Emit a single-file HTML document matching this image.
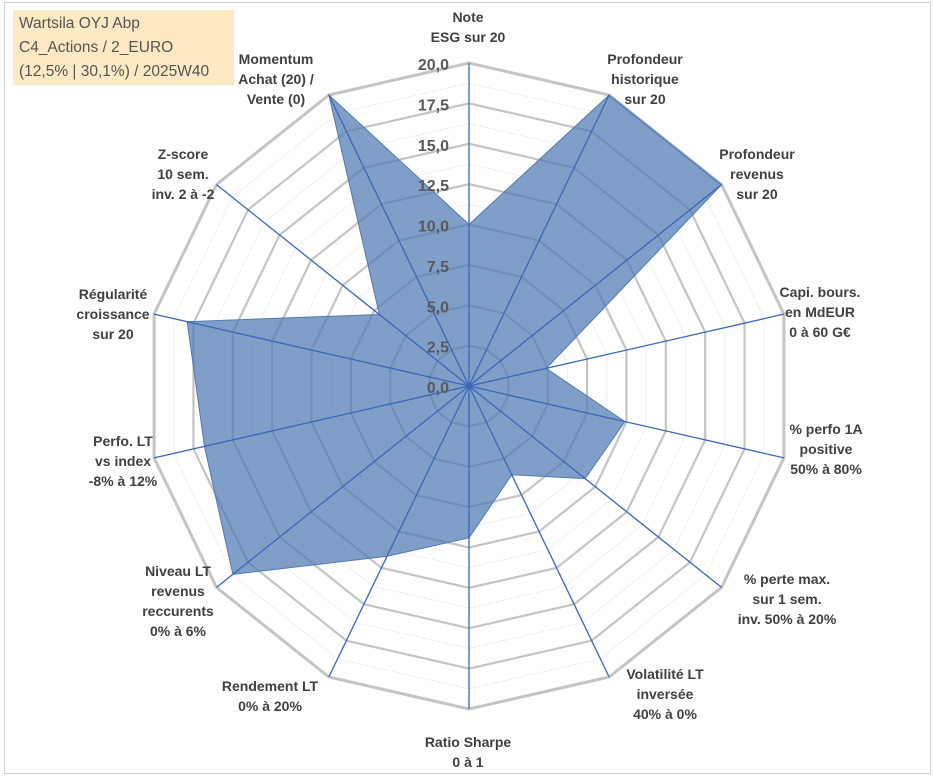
<!DOCTYPE html>
<html><head><meta charset="utf-8"><style>
body{margin:0;background:#fff;}
#wrap{position:relative;width:933px;height:776px;overflow:hidden;font-family:"Liberation Sans",Arial,sans-serif;}
#frame{position:absolute;left:4px;top:2px;width:925px;height:770px;border:1px solid #d0d0d0;}
#title{position:absolute;left:13px;top:10px;width:221px;height:75px;background:#fde9c3;color:#555;font-size:15.5px;line-height:24px;padding:2px 0 0 6px;box-sizing:border-box;}
</style></head><body>
<div id="wrap">
<div id="frame"></div>
<svg id="chart" width="933" height="776" style="position:absolute;left:0;top:0"></svg>
<div id="title">Wartsila OYJ Abp<br>C4_Actions / 2_EURO<br>(12,5% | 30,1%) / 2025W40</div>
</div>
<script>
const categories=[["Note","ESG sur 20"],["Profondeur","historique","sur 20"],["Profondeur","revenus","sur 20"],["Capi. bours.","en MdEUR","0 à 60 G€"],["% perfo 1A","positive","50% à 80%"],["% perte max.","sur 1 sem.","inv. 50% à 20%"],["Volatilité LT","inversée","40% à 0%"],["Ratio Sharpe","0 à 1"],["Rendement LT","0% à 20%"],["Niveau LT","revenus","reccurents","0% à 6%"],["Perfo. LT","vs index","-8% à 12%"],["Régularité","croissance","sur 20"],["Z-score","10 sem.","inv. 2 à -2"],["Momentum","Achat (20) /","Vente (0)"]];
const values=[10,20,20,4.9,9.9,9.2,6.1,9.4,11.7,18.7,16.8,17.9,7.1,20];
const tickLabels=["0,0","2,5","5,0","7,5","10,0","12,5","15,0","17,5","20,0"];
const tickValues=[0,2.5,5,7.5,10,12.5,15,17.5,20];
const labelPos=[[468,8],[645,50],[757,145],[820,283],[826,420],[787,570],[665,665],[468,733],[270,677],[178,562],[123,432],[113,285],[183,145],[276,50]];
const cx=469,cy=386,R=323,maxV=20;
const svg=document.getElementById('chart');const NS="http://www.w3.org/2000/svg";
const N=categories.length;
function ang(i){return i*2*Math.PI/N;}
function pt(i,v){const r=v/maxV*R;return [cx+r*Math.sin(ang(i)),cy-r*Math.cos(ang(i))];}
function mk(t,a){const e=document.createElementNS(NS,t);for(const k in a)e.setAttribute(k,a[k]);svg.appendChild(e);return e;}
for(let v=1.25;v<20;v+=2.5){const p=categories.map((c,i)=>pt(i,v).join(',')).join(' ');
const e=mk('polygon',{points:p,fill:'none',stroke:'#efefef','stroke-width':1});

}
tickValues.slice(1).forEach(v=>{const p=categories.map((c,i)=>pt(i,v).join(',')).join(' ');
const e=mk('polygon',{points:p,fill:'none',stroke:'#c4c4c4','stroke-width':v==20?3:2.2});

});
const sp=values.map((v,i)=>pt(i,v).join(',')).join(' ');
const s=mk('polygon',{points:sp,fill:'#4f7ab3','fill-opacity':0.72,stroke:'#4f7ab3','stroke-width':1});


categories.forEach((c,i)=>{const [x,y]=pt(i,20);const e=mk('line',{x1:cx,y1:cy,x2:x,y2:y,stroke:'#3a66b8','stroke-width':1.3});

});
tickValues.forEach((v,k)=>{const e=mk('text',{x:cx-20,y:cy-v/maxV*R+7,'text-anchor':'end','font-size':16,'font-weight':'bold',fill:'#595959'});
e.textContent=tickLabels[k];

});
categories.forEach((c,i)=>{const [x,y]=labelPos[i];const t=mk('text',{x:x,y:y,'text-anchor':'middle','font-size':14,'font-weight':'bold',fill:'#404040'});
c.forEach((l,j)=>{const ts=document.createElementNS(NS,'tspan');ts.setAttribute('x',x);ts.setAttribute('dy',j==0?14:20);ts.textContent=l;t.appendChild(ts);});

});
</script>
</body></html>
